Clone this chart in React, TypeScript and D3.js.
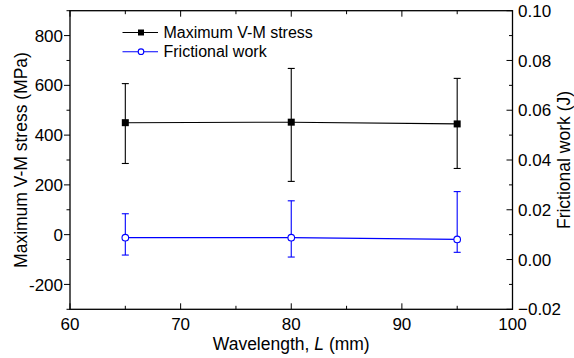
import React from "react";
import * as d3 from "d3";

// Wavelength L (mm)
const wavelengths = [65, 80, 95];

// Maximum von Mises stress (MPa) with error-bar bounds
const stressMean = [450, 452, 445];
const stressUpper = [607, 668, 628];
const stressLower = [286, 214, 266];

// Frictional work (J) with error-bar bounds
const workMean = [0.0088, 0.0088, 0.0081];
const workUpper = [0.0184, 0.0236, 0.0273];
const workLower = [0.0018, 0.001, 0.0029];

const xTicks = [60, 70, 80, 90, 100];
const leftTicks = [-200, 0, 200, 400, 600, 800];
const rightTicks = [-0.02, 0, 0.02, 0.04, 0.06, 0.08, 0.1];

const W = 574;
const H = 358;
const M = { left: 70, right: 61.5, top: 10.7, bottom: 48.7 };
const FONT = "'Liberation Sans', Arial, sans-serif";
const BLUE = "#0000ff";

export default function App() {
  const x = d3.scaleLinear().domain([60, 100]).range([M.left, W - M.right]);
  const yL = d3.scaleLinear().domain([-300, 900]).range([H - M.bottom, M.top]);
  const yR = d3.scaleLinear().domain([-0.02, 0.1]).range([H - M.bottom, M.top]);
  const x0 = M.left;
  const x1 = W - M.right;
  const y0 = H - M.bottom;
  const y1 = M.top;

  const lineL = d3
    .line<number>()
    .x((_, i) => x(wavelengths[i]))
    .y((d) => yL(d));
  const lineR = d3
    .line<number>()
    .x((_, i) => x(wavelengths[i]))
    .y((d) => yR(d));

  const xMinor = d3.range(60, 101, 5);
  const leftMinor = d3.range(-300, 901, 100);
  const rightMinor = d3.range(-0.02, 0.1001, 0.01);

  const cap = 3.5;
  const sq = 7;
  const fmtR = d3.format(".2f");

  return (
    <svg
      width={W}
      height={H}
      style={{ position: "fixed", left: 0, top: 0, background: "#fff" }}
      fontFamily={FONT}
    >
      {/* bottom ticks (inward) */}
      {xMinor.map((v) => (
        <line key={"bx" + v} x1={x(v)} x2={x(v)} y1={y0} y2={y0 - (v % 10 === 0 ? 6 : 3.5)} stroke="#000" strokeWidth={1} />
      ))}
      {/* top ticks (inward) */}
      {xMinor.map((v) => (
        <line key={"tx" + v} x1={x(v)} x2={x(v)} y1={y1} y2={y1 + (v % 10 === 0 ? 6 : 3.5)} stroke="#000" strokeWidth={1} />
      ))}
      {/* left ticks (outward) */}
      {leftMinor.map((v) => (
        <line key={"ly" + v} x1={x0} x2={x0 - (v % 200 === 0 ? 6 : 3.5)} y1={yL(v)} y2={yL(v)} stroke="#000" strokeWidth={1} />
      ))}
      {/* right ticks (inward) */}
      {rightMinor.map((v, i) => (
        <line key={"ry" + i} x1={x1} x2={x1 - (i % 2 === 0 ? 6 : 3.5)} y1={yR(v)} y2={yR(v)} stroke="#000" strokeWidth={1} />
      ))}

      {/* frame */}
      <rect x={x0} y={y1} width={x1 - x0} height={y0 - y1} fill="none" stroke="#000" strokeWidth={1.3} />

      {/* tick labels */}
      {xTicks.map((v) => (
        <text key={"xl" + v} x={x(v)} y={330} textAnchor="middle" fontSize={17}>
          {v}
        </text>
      ))}
      {leftTicks.map((v) => (
        <text key={"ll" + v} x={63} y={yL(v)} dy="0.36em" textAnchor="end" fontSize={17}>
          {v}
        </text>
      ))}
      {rightTicks.map((v) => (
        <text key={"rl" + v} x={518} y={yR(v)} dy="0.36em" textAnchor="start" fontSize={17}>
          {fmtR(v)}
        </text>
      ))}

      {/* axis titles */}
      <text x={(x0 + x1) / 2} y={350} textAnchor="middle" fontSize={17.5}>
        Wavelength, <tspan fontStyle="italic">L</tspan> (mm)
      </text>
      <text transform={`translate(26.5,${(y0 + y1) / 2}) rotate(-90)`} textAnchor="middle" fontSize={17.5}>
        Maximum V-M stress (MPa)
      </text>
      <text transform={`translate(569.5,${(y0 + y1) / 2}) rotate(-90)`} textAnchor="middle" fontSize={17.5}>
        Frictional work (J)
      </text>

      {/* stress series */}
      <path d={lineL(stressMean) ?? ""} fill="none" stroke="#000" strokeWidth={1.1} />
      {wavelengths.map((w, i) => (
        <g key={"se" + i} stroke="#000" strokeWidth={1.1}>
          <line x1={x(w)} x2={x(w)} y1={yL(stressUpper[i])} y2={yL(stressLower[i])} />
          <line x1={x(w) - cap} x2={x(w) + cap} y1={yL(stressUpper[i])} y2={yL(stressUpper[i])} />
          <line x1={x(w) - cap} x2={x(w) + cap} y1={yL(stressLower[i])} y2={yL(stressLower[i])} />
        </g>
      ))}
      {wavelengths.map((w, i) => (
        <rect key={"sm" + i} x={x(w) - sq / 2} y={yL(stressMean[i]) - sq / 2} width={sq} height={sq} fill="#000" />
      ))}

      {/* frictional work series */}
      <path d={lineR(workMean) ?? ""} fill="none" stroke={BLUE} strokeWidth={1.1} />
      {wavelengths.map((w, i) => (
        <g key={"we" + i} stroke={BLUE} strokeWidth={1.1}>
          <line x1={x(w)} x2={x(w)} y1={yR(workUpper[i])} y2={yR(workLower[i])} />
          <line x1={x(w) - cap} x2={x(w) + cap} y1={yR(workUpper[i])} y2={yR(workUpper[i])} />
          <line x1={x(w) - cap} x2={x(w) + cap} y1={yR(workLower[i])} y2={yR(workLower[i])} />
        </g>
      ))}
      {wavelengths.map((w, i) => (
        <circle key={"wm" + i} cx={x(w)} cy={yR(workMean[i])} r={3.3} fill="#fff" stroke={BLUE} strokeWidth={1.1} />
      ))}

      {/* legend */}
      <g>
        <line x1={122.5} x2={158} y1={32.5} y2={32.5} stroke="#000" strokeWidth={1.1} />
        <rect x={141 - 3} y={32.5 - 3} width={6} height={6} fill="#000" />
        <text x={163.5} y={32.5} dy="0.36em" fontSize={16}>
          Maximum V-M stress
        </text>
        <line x1={122.5} x2={158} y1={51.7} y2={51.7} stroke={BLUE} strokeWidth={1.1} />
        <circle cx={141} cy={51.7} r={2.8} fill="#fff" stroke={BLUE} strokeWidth={1.1} />
        <text x={163.5} y={51.7} dy="0.36em" fontSize={16}>
          Frictional work
        </text>
      </g>
    </svg>
  );
}
